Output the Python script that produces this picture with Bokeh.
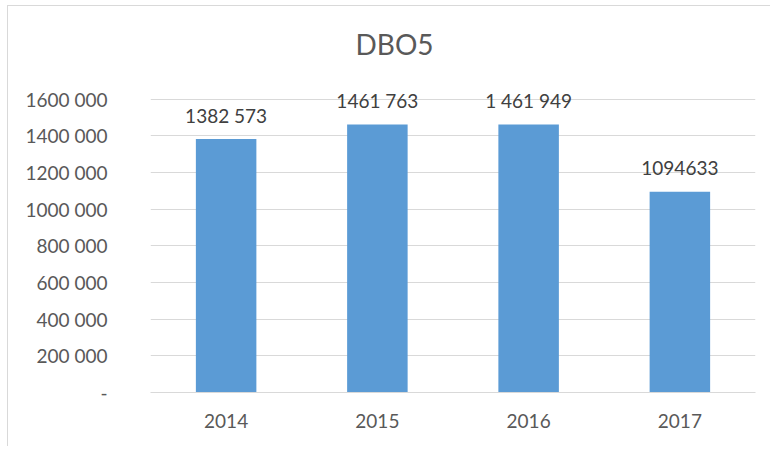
from bokeh.plotting import figure
from bokeh.models import ColumnDataSource, LabelSet, FixedTicker
from bokeh.core.properties import value
from bokeh.embed import file_html
from bokeh.resources import INLINE

years = ["2014", "2015", "2016", "2017"]
values = [1382573, 1461763, 1461949, 1094633]
value_labels = ["1382 573", "1461 763", "1 461 949", "1094633"]
y_ticks = [0, 200000, 400000, 600000, 800000, 1000000, 1200000, 1400000, 1600000]
y_tick_labels = ["-", "200 000", "400 000", "600 000", "800 000", "1000 000", "1200 000", "1400 000", "1600 000"]

FONT = "Lato"
TXT = "#595959"

src = ColumnDataSource(dict(x=years, top=values, lab=value_labels))

p = figure(x_range=years, y_range=(0, 1800000), width=763, height=441,
           output_backend="svg", toolbar_location=None, title="DBO5",
           min_border_left=142, min_border_right=16, min_border_top=56, min_border_bottom=55)
p.styles = {"border-left": "1px solid #D9D9D9", "border-top": "1px solid #D9D9D9",
            "margin-left": "7px", "margin-top": "5px"}
p.outline_line_color = None
p.title.align = "left"
p.title.offset = 205
p.title.text_font = FONT
p.title.text_font_size = "28px"
p.title.text_font_style = "normal"
p.title.text_color = TXT
p.title.standoff = 3

p.vbar(x="x", top="top", width=0.4, source=src, fill_color="#5B9BD5", line_color=None)

labels = LabelSet(x="x", y="top", text="lab", source=src, text_align="center",
                  text_baseline="middle", y_offset=24, text_font_size="19px",
                  text_color="#404040", text_font=value(FONT))
p.add_layout(labels)

p.yaxis.ticker = FixedTicker(ticks=y_ticks)
p.yaxis.major_label_overrides = {t: l for t, l in zip(y_ticks, y_tick_labels)}
p.yaxis.axis_line_color = None
p.yaxis.major_tick_line_color = None
p.yaxis.minor_tick_line_color = None
p.yaxis.major_label_standoff = 37
p.yaxis.major_label_text_font = FONT
p.yaxis.major_label_text_font_size = "19px"
p.yaxis.major_label_text_color = TXT

p.xaxis.axis_line_color = "#D9D9D9"
p.xaxis.axis_line_width = 1
p.xaxis.major_tick_line_color = None
p.xaxis.minor_tick_line_color = None
p.xaxis.major_label_standoff = 15
p.xaxis.major_label_text_font = FONT
p.xaxis.major_label_text_font_size = "19px"
p.xaxis.major_label_text_color = TXT

p.xgrid.grid_line_color = None
p.ygrid.grid_line_color = "#D9D9D9"
p.ygrid.ticker = FixedTicker(ticks=y_ticks)

open("out.html", "w").write(file_html(p, INLINE))
